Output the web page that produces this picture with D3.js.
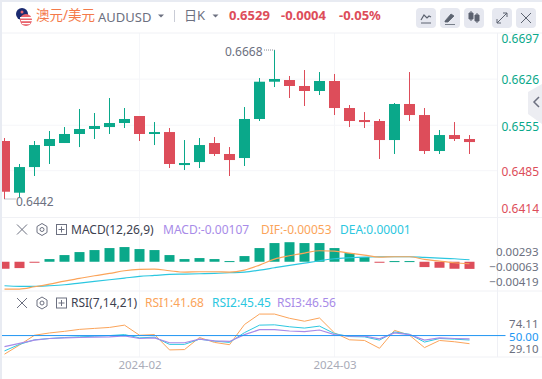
<!doctype html>
<html lang="en">

<head>
  <meta charset="utf-8">
  <title>AUDUSD</title>
  <script src="https://d3js.org/d3.v7.min.js"></script>
  <style type="text/css">
    html,
    body {
      width: 100%;
      height: 100%;
      padding: 0;
      margin: 0;
      background: #fff;
      overflow: hidden;
    }

    svg {
      display: block;
    }

    text {
      font-family: "Noto Sans", "Noto Sans CJK SC", sans-serif;
    }

    .domain {
      display: none;
    }

    .tick line {
      display: none;
    }
  </style>
</head>

<body>
  <script>
    // candles, one entry per trading day
    var opens = [0.65307, 0.64511, 0.64906, 0.6523, 0.65276, 0.65415, 0.65492, 0.65522, 0.65584, 0.65692, 0.65415, 0.65445, 0.64937, 0.64983, 0.65276, 0.65107, 0.65045, 0.65646, 0.6622, 0.66246, 0.66154, 0.66077, 0.66231, 0.65815, 0.6563, 0.65615, 0.65322, 0.65877, 0.65707, 0.65153, 0.65399, 0.65338];
    var highs = [0.65353, 0.64953, 0.65307, 0.65461, 0.65522, 0.658, 0.65738, 0.65969, 0.65815, 0.65692, 0.65599, 0.65507, 0.65322, 0.65353, 0.65368, 0.65214, 0.6583, 0.66277, 0.66708, 0.66308, 0.664, 0.66369, 0.66339, 0.65861, 0.65753, 0.65646, 0.65892, 0.66369, 0.65815, 0.65476, 0.65599, 0.65399];
    var lows = [0.64414, 0.64444, 0.64768, 0.64953, 0.65276, 0.65214, 0.65338, 0.65415, 0.65507, 0.65307, 0.65245, 0.64891, 0.6486, 0.64891, 0.65076, 0.64768, 0.64922, 0.65615, 0.66138, 0.65969, 0.65846, 0.66015, 0.65707, 0.65522, 0.65507, 0.6503, 0.65107, 0.65615, 0.65107, 0.65107, 0.65307, 0.65107];
    var closes = [0.64526, 0.64906, 0.65245, 0.65338, 0.65415, 0.65492, 0.65538, 0.65584, 0.65646, 0.65415, 0.65445, 0.64953, 0.64968, 0.65245, 0.65107, 0.65014, 0.65646, 0.6622, 0.66262, 0.66154, 0.66077, 0.66231, 0.65815, 0.65615, 0.65599, 0.65322, 0.65877, 0.65707, 0.65153, 0.65399, 0.65338, 0.65291];

    // MACD pane
    var macdBars = [-0.00105, -0.00095, -0.00015, 0.0004, 0.001, 0.00145, 0.00175, 0.00205, 0.0022, 0.0019, 0.00175, 0.001, 0.0004, 0.00055, 0.0004, 0.0001, 0.00085, 0.00205, 0.0028, 0.00293, 0.0028, 0.0028, 0.00205, 0.0013, 0.0007, -0.0001, 0.0001, 0.0001, -0.0008, -0.0009, -0.00105, -0.00107];
    var difLine = [-0.0041, -0.0041, -0.00375, -0.00335, -0.0029, -0.0025, -0.0021, -0.00175, -0.00135, -0.00115, -0.0011, -0.00135, -0.00155, -0.0015, -0.0015, -0.00155, -0.00125, -0.0005, 0.0004, 0.0009, 0.0013, 0.00165, 0.0016, 0.0013, 0.001, 0.0007, 0.00075, 0.00075, 0.00035, 0.0001, -0.00015, -0.0003];
    var deaLine = [-0.0036, -0.0037, -0.0037, -0.0036, -0.00345, -0.0032, -0.00295, -0.0027, -0.00245, -0.0022, -0.00205, -0.0019, -0.00185, -0.0018, -0.00175, -0.00165, -0.00155, -0.00125, -0.0009, -0.00055, -0.0002, 0.00015, 0.00045, 0.0006, 0.0007, 0.00075, 0.00075, 0.00075, 0.00065, 0.00055, 0.00045, 0.0003];

    // RSI pane
    var rsi1 = [31, 40.33, 50.33, 52.67, 54.33, 56.33, 57.33, 58.33, 60.67, 50.33, 51, 35.33, 35.67, 48, 43, 40.67, 61.33, 72, 72, 67.67, 64.67, 68, 52.67, 45.67, 45, 37, 55.33, 50.33, 37.67, 45, 43.67, 41.68];
    var rsi2 = [34.33, 41, 45.67, 47, 48, 48.67, 49.33, 50, 51, 47.67, 48.33, 41, 41, 46.33, 44.33, 43, 53, 60.67, 61, 59, 57.67, 59.67, 52, 49, 48.67, 45.33, 53.67, 51.33, 43.33, 47, 46.33, 45.45];
    var rsi3 = [38.67, 42, 45.33, 47, 47.67, 48, 48.33, 48.67, 49.67, 47, 47.67, 42.67, 42.67, 46.33, 44.67, 44, 51, 56, 56, 54.67, 54, 55.67, 51, 49.33, 49.33, 46.67, 52.67, 51, 45.33, 47.67, 47, 46.56];

    var priceTicks = [0.6697, 0.6626, 0.6555, 0.6485, 0.6414];
    var macdTicks = [0.00293, -0.00063, -0.00419];
    var rsiTicks = [74.11, 50, 29.1];
    var monthTicks = [9, 22];
    var monthNames = ["2024-02", "2024-03"];

    var green = "#0aa88a",
      red = "#dd4d5a",
      gridColor = "#f5f6f9",
      orange = "#fba45a",
      cyan = "#2cc7e0",
      purple = "#a88be8",
      blue = "#2196f3",
      grayText = "#6c7080";

    var width = 542,
      height = 379,
      plotLeft = 2,
      plotRight = 497.5;

    var days = d3.range(closes.length);

    var svg = d3.select("body").append("svg")
      .attr("width", width)
      .attr("height", height);

    svg.append("clipPath").attr("id", "plot-clip")
      .append("rect")
      .attr("x", plotLeft).attr("y", 33)
      .attr("width", plotRight - plotLeft).attr("height", 330);

    // the window frame around the white panel
    svg.append("rect").attr("width", width).attr("height", 2).attr("fill", "#e8ebf2");
    svg.append("rect").attr("width", 2).attr("height", height).attr("fill", "#e8ebf2");

    // shared x scale
    var x = d3.scaleLinear().domain([0, 31]).range([4.5, 469.5]);

    var yPrice = d3.scaleLinear().domain([0.6414, 0.6697]).range([216.8, 33]);
    var yMacd = d3.scaleLinear().domain([-0.00419, 0.00293]).range([289.7, 242.2]);
    var yRsi = d3.scaleLinear().domain([29.1, 74.11]).range([356, 312]);

    // the labels of the lower panes sit closer together than the values they name
    var yMacdLabel = d3.scaleLinear().domain([-0.00419, 0.00293]).range([282.3, 251.7]);
    var yRsiLabel = d3.scaleLinear().domain([29.1, 74.11]).range([348.5, 324.3]);

    var xAxisY = 357;

    // grid and separators
    var grid = svg.append("g").attr("stroke", gridColor).attr("fill", "none");
    priceTicks.slice(1, 4).forEach(function(t) {
      grid.append("line").attr("x1", plotLeft).attr("x2", plotRight).attr("y1", yPrice(t)).attr("y2", yPrice(t));
    });
    monthTicks.forEach(function(d) {
      grid.append("line").attr("x1", x(d)).attr("x2", x(d)).attr("y1", 33).attr("y2", xAxisY);
    });
    grid.append("line").attr("x1", plotRight).attr("x2", plotRight).attr("y1", 33).attr("y2", xAxisY).attr("stroke", "#eff0f5");
    [33, 217.5, 291, xAxisY].forEach(function(yy) {
      grid.append("line").attr("x1", plotLeft).attr("x2", width).attr("y1", yy).attr("y2", yy).attr("stroke", "#f0f1f5");
    });

    var plot = svg.append("g").attr("clip-path", "url(#plot-clip)");

    function candleColor(d) {
      return closes[d] >= opens[d] ? green : red;
    }

    // wicks
    plot.selectAll(".wick")
      .data(days)
      .enter().append("line")
      .attr("class", "wick")
      .attr("x1", function(d) { return x(d); })
      .attr("x2", function(d) { return x(d); })
      .attr("y1", function(d) { return yPrice(highs[d]); })
      .attr("y2", function(d) { return yPrice(lows[d]); })
      .attr("stroke", candleColor);

    // bodies
    plot.selectAll(".body")
      .data(days)
      .enter().append("rect")
      .attr("class", "body")
      .attr("x", function(d) { return x(d) - 5.5; })
      .attr("width", 11)
      .attr("y", function(d) { return yPrice(Math.max(opens[d], closes[d])); })
      .attr("height", function(d) { return Math.abs(yPrice(opens[d]) - yPrice(closes[d])); })
      .attr("fill", candleColor);

    // high and low markers
    function extremeLabel(text, xText, yText, anchor, x1, x2, yLine) {
      svg.append("text").attr("x", xText).attr("y", yText).attr("text-anchor", anchor)
        .attr("dy", "0.35em").attr("font-size", 12).attr("fill", grayText).text(text);
      svg.append("line").attr("x1", x1).attr("x2", x2).attr("y1", yLine).attr("y2", yLine)
        .attr("stroke", "#888b98").attr("stroke-dasharray", "1 1");
    }
    extremeLabel("0.6668", 262.5, 52, "end", 264, x(18), yPrice(highs[18]));
    extremeLabel("0.6442", 16, 201.5, "start", x(0), 16, yPrice(lows[0]));

    // MACD histogram
    var zeroY = yMacd(0);
    plot.selectAll(".macd-bar")
      .data(days)
      .enter().append("rect")
      .attr("class", "macd-bar")
      .attr("x", function(d) { return x(d) - 5; })
      .attr("width", 10)
      .attr("y", function(d) { return Math.min(zeroY, yMacd(macdBars[d])); })
      .attr("height", function(d) { return Math.max(1, Math.abs(yMacd(macdBars[d]) - zeroY)); })
      .attr("fill", function(d) { return macdBars[d] >= 0 ? green : red; });

    // lines for the indicator panes
    function drawLine(values, yScale, color, curve, lineWidth) {
      var gen = d3.line()
        .x(function(d) { return x(d); })
        .y(function(d) { return yScale(values[d]); })
        .curve(curve);
      plot.append("path")
        .datum(days)
        .attr("fill", "none")
        .attr("stroke", color)
        .attr("stroke-width", lineWidth)
        .attr("d", gen);
    }

    drawLine(deaLine, yMacd, cyan, d3.curveMonotoneX, 1.2);
    drawLine(difLine, yMacd, orange, d3.curveMonotoneX, 1.2);

    drawLine(rsi1, yRsi, orange, d3.curveLinear, 1);
    drawLine(rsi2, yRsi, cyan, d3.curveLinear, 1);
    drawLine(rsi3, yRsi, purple, d3.curveLinear, 1.2);

    // 50 line of the RSI
    svg.append("line")
      .attr("x1", plotLeft).attr("x2", plotRight + 8)
      .attr("y1", yRsi(50)).attr("y2", yRsi(50))
      .attr("stroke", blue);

    // price axis
    var priceAxis = svg.append("g")
      .attr("transform", "translate(539,0)")
      .call(d3.axisLeft(yPrice).tickValues(priceTicks).tickFormat(d3.format(".4f")).tickSize(0).tickPadding(0));
    priceAxis.selectAll("text")
      .attr("font-size", 12)
      .attr("fill", function(d) { return d >= 0.6555 ? green : red; })
      .attr("transform", function(d) {
        if (d === 0.6697) return "translate(0,6)";
        if (d === 0.6414) return "translate(0,-8)";
        return "translate(0,1)";
      });

    // MACD and RSI axes
    function indicatorAxis(scale, ticks, format) {
      var axis = svg.append("g")
        .attr("transform", "translate(538.5,0)")
        .call(d3.axisLeft(scale).tickValues(ticks).tickFormat(format).tickSize(0).tickPadding(0));
      axis.selectAll("text")
        .attr("font-size", 11.5)
        .attr("fill", function(d) { return d === 50 ? blue : grayText; });
      return axis;
    }
    indicatorAxis(yMacdLabel, macdTicks, d3.format(".5f"));
    indicatorAxis(yRsiLabel, rsiTicks, d3.format(".2f"));

    // month labels
    var monthAxis = svg.append("g")
      .attr("transform", "translate(0," + xAxisY + ")")
      .call(d3.axisBottom(x).tickValues(monthTicks).tickFormat(function(d, i) { return monthNames[i]; }).tickSize(0).tickPadding(4));
    monthAxis.selectAll("text").attr("font-size", 11.5).attr("fill", "#a9abb8");

    // header texts
    function label(text, xText, yText, size, color, weight) {
      return svg.append("text").attr("x", xText).attr("y", yText).attr("dy", "0.35em")
        .attr("font-size", size).attr("fill", color).attr("font-weight", weight || 400).text(text);
    }
    label("澳元/美元", 36, 15.5, 13.5, "#f47a4a");
    label("AUDUSD", 98, 17, 13, grayText);
    label("日K", 184, 15.5, 13, grayText);
    label("0.6529", 229, 15.5, 13, red, 700);
    label("-0.0004", 281, 15.5, 13, red, 700);
    label("-0.05%", 339, 15.5, 13, red, 700);

    function triangle(cx, cy) {
      svg.append("path").attr("d", "M" + (cx - 3) + "," + (cy - 1.5) + "h6l-3,3z").attr("fill", grayText);
    }
    triangle(161, 16);
    triangle(215.5, 16);
    svg.append("line").attr("x1", 174.5).attr("x2", 174.5).attr("y1", 10).attr("y2", 22).attr("stroke", "#c9ccd6");

    // flag
    var flag = svg.append("g");
    flag.append("circle").attr("cx", 22).attr("cy", 14).attr("r", 6).attr("fill", "#1b2a70");
    flag.append("circle").attr("cx", 26).attr("cy", 20).attr("r", 6).attr("fill", "#e9636c");
    flag.append("rect").attr("x", 20).attr("y", 17).attr("width", 12).attr("height", 1.5).attr("fill", "#fff");
    flag.append("rect").attr("x", 21).attr("y", 20).attr("width", 11).attr("height", 1.2).attr("fill", "#fff");
    flag.append("rect").attr("x", 22).attr("y", 23).attr("width", 8).attr("height", 1.2).attr("fill", "#fff");
    flag.append("circle").attr("cx", 22).attr("cy", 12).attr("r", 1.5).attr("fill", "#e9636c");

    // toolbar buttons
    var buttonX = [416, 440, 464, 492, 516];
    svg.selectAll(".btn")
      .data(buttonX)
      .enter().append("rect")
      .attr("class", "btn")
      .attr("x", function(d) { return d; })
      .attr("y", 8)
      .attr("width", 20)
      .attr("height", 20)
      .attr("rx", 4)
      .attr("fill", "#e6e8f0");

    var icon = "#5c6370";
    svg.append("path").attr("d", "M421,20 l3,-5 l3,3 l2,-2 l2,1 M421,23 h10").attr("fill", "none").attr("stroke", icon).attr("stroke-width", 1.2);
    svg.append("path").attr("d", "M445,21 l6,-7 l3,2 l-6,6 h-3z M445,24.5 h10").attr("fill", icon).attr("stroke", icon).attr("stroke-width", 0.8);
    svg.append("path").attr("d", "M469,13h4v6h-4z M475,15h4v6h-4z M471,11v10 M477,13v10").attr("fill", icon).attr("stroke", icon);
    svg.append("path").attr("d", "M497,23 l10,-10 M503,13h4v4 M497,19v4h4").attr("fill", "none").attr("stroke", icon);
    svg.append("path").attr("d", "M521,13 l10,10 M531,13 l-10,10").attr("fill", "none").attr("stroke", icon);

    // pane headers
    function paneHeader(yy) {
      svg.append("path").attr("d", "M17," + (yy - 5) + "l10,10M27," + (yy - 5) + "l-10,10").attr("fill", "none").attr("stroke", grayText);
      svg.append("path")
        .attr("d", "M42," + (yy - 6) + "l5,3v6l-5,3l-5,-3v-6z")
        .attr("fill", "none").attr("stroke", grayText);
      svg.append("circle").attr("cx", 42).attr("cy", yy).attr("r", 2).attr("fill", "none").attr("stroke", grayText);
      svg.append("rect").attr("x", 56.5).attr("y", yy - 5).attr("width", 10).attr("height", 10).attr("fill", "none").attr("stroke", grayText);
      svg.append("path").attr("d", "M58.5," + yy + "h6M61.5," + (yy - 3) + "v6").attr("fill", "none").attr("stroke", grayText);
    }
    paneHeader(229.5);
    paneHeader(303);

    label("MACD(12,26,9)", 71, 229.5, 12, "#3d4150");
    label("MACD:-0.00107", 163, 229.5, 12, purple);
    label("DIF:-0.00053", 261, 229.5, 12, orange);
    label("DEA:0.00001", 340, 229.5, 12, cyan);

    label("RSI(7,14,21)", 71, 303, 12, "#3d4150");
    label("RSI1:41.68", 145, 303, 12, orange);
    label("RSI2:45.45", 212, 303, 12, cyan);
    label("RSI3:46.56", 277, 303, 12, purple);

    // collapse tab at the right edge
    svg.append("path").attr("d", "M542,84 L528,92 V114 L542,124 Z").attr("fill", "#ecedf2");
    svg.append("path").attr("d", "M539,97 l-5,5 l5,5").attr("fill", "none").attr("stroke", "#6c7080").attr("stroke-width", 1.5);
  </script>
</body>

</html>
